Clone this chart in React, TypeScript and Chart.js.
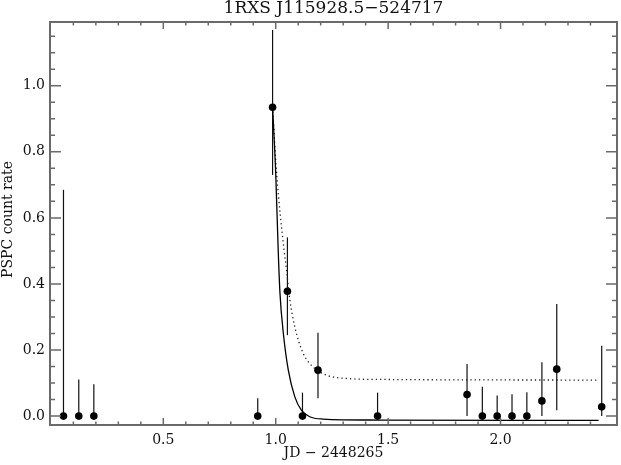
import { useEffect, useRef } from 'react';
import { Chart, registerables } from 'chart.js';

Chart.register(...registerables);

const titleText = '1RXS J115928.5\u2212524717';
const xTitle = 'JD \u2212 2448265';
const yTitle = 'PSPC count rate';

const obsX = [0.056, 0.124, 0.191, 0.920, 0.986, 1.052, 1.119, 1.188, 1.453, 1.851, 1.919, 1.985, 2.051, 2.117, 2.184, 2.250, 2.450];
const obsY = [0.0, 0.0, 0.0, 0.0, 0.935, 0.378, 0.0, 0.139, 0.0, 0.065, 0.0, 0.0, 0.0, 0.0, 0.046, 0.142, 0.028];
const errLo = [0.0, 0.0, 0.0, 0.0, 0.730, 0.245, 0.0, 0.054, 0.0, 0.0, 0.0, 0.0, 0.0, 0.0, 0.0, 0.018, 0.0];
const errHi = [0.685, 0.111, 0.096, 0.054, 1.169, 0.541, 0.071, 0.252, 0.071, 0.158, 0.089, 0.062, 0.066, 0.072, 0.163, 0.339, 0.213];

// Model curves
const solidX = [0.986, 1.000, 1.011, 1.019, 1.034, 1.056, 1.085, 1.114, 1.151, 1.210, 1.453, 2.436];
const solidY = [0.935, 0.735, 0.503, 0.371, 0.250, 0.139, 0.058, 0.018, -0.002, -0.009, -0.012, -0.013];
const dottedX = [0.986, 1.004, 1.037, 1.048, 1.063, 1.085, 1.122, 1.166, 1.225, 1.313, 1.460, 2.429];
const dottedY = [0.935, 0.735, 0.503, 0.442, 0.351, 0.270, 0.190, 0.149, 0.124, 0.114, 0.111, 0.109];

// Axis ticks
const xMajorTicks = [0.5, 1.0, 1.5, 2.0];
const xTickLabels = ['0.5', '1.0', '1.5', '2.0'];
const xMinorTicks = [0.1, 0.2, 0.3, 0.4, 0.6, 0.7, 0.8, 0.9, 1.1, 1.2, 1.3, 1.4, 1.6, 1.7, 1.8, 1.9, 2.1, 2.2, 2.3, 2.4];
const yMajorTicks = [0.0, 0.2, 0.4, 0.6, 0.8, 1.0];
const yTickLabels = ['0.0', '0.2', '0.4', '0.6', '0.8', '1.0'];
const yMinorTicks = [0.05, 0.1, 0.15, 0.25, 0.3, 0.35, 0.45, 0.5, 0.55, 0.65, 0.7, 0.75, 0.85, 0.9, 0.95, 1.05, 1.1, 1.15];

const FONT = '"DejaVu Serif", serif';
const AXIS_COLOR = '#6a6a6a';

const errorBarsPlugin = {
  id: 'errorBars',
  beforeDatasetsDraw(chart: any) {
    const { ctx } = chart;
    const xs = chart.scales.x;
    const ys = chart.scales.y;
    ctx.save();
    ctx.strokeStyle = '#111';
    ctx.lineWidth = 1.2;
    obsX.forEach((v, i) => {
      const px = xs.getPixelForValue(v);
      ctx.beginPath();
      ctx.moveTo(px, ys.getPixelForValue(errLo[i]));
      ctx.lineTo(px, ys.getPixelForValue(errHi[i]));
      ctx.stroke();
    });
    ctx.restore();
  },
};

const framePlugin = {
  id: 'frameAxes',
  afterDraw(chart: any) {
    const { ctx, chartArea } = chart;
    const { left, right, top, bottom } = chartArea;
    const xs = chart.scales.x;
    const ys = chart.scales.y;
    ctx.save();
    ctx.strokeStyle = AXIS_COLOR;
    ctx.lineWidth = 2;
    ctx.strokeRect(left, top, right - left, bottom - top);

    const xMajLen = 7, xMinLen = 3.5, yMajLen = 11, yMinLen = 5;
    ctx.lineWidth = 1.5;
    ctx.beginPath();
    xMajorTicks.forEach((v) => {
      const p = xs.getPixelForValue(v);
      ctx.moveTo(p, bottom); ctx.lineTo(p, bottom - xMajLen);
      ctx.moveTo(p, top); ctx.lineTo(p, top + xMajLen);
    });
    xMinorTicks.forEach((v) => {
      const p = xs.getPixelForValue(v);
      ctx.moveTo(p, bottom); ctx.lineTo(p, bottom - xMinLen);
      ctx.moveTo(p, top); ctx.lineTo(p, top + xMinLen);
    });
    yMajorTicks.forEach((v) => {
      const p = ys.getPixelForValue(v);
      ctx.moveTo(left, p); ctx.lineTo(left + yMajLen, p);
      ctx.moveTo(right, p); ctx.lineTo(right - yMajLen, p);
    });
    yMinorTicks.forEach((v) => {
      const p = ys.getPixelForValue(v);
      ctx.moveTo(left, p); ctx.lineTo(left + yMinLen, p);
      ctx.moveTo(right, p); ctx.lineTo(right - yMinLen, p);
    });
    ctx.stroke();

    ctx.fillStyle = '#111';
    ctx.font = `14px ${FONT}`;
    ctx.textAlign = 'center';
    ctx.textBaseline = 'middle';
    xMajorTicks.forEach((v, i) => {
      ctx.fillText(xTickLabels[i], xs.getPixelForValue(v), bottom + 15);
    });
    ctx.textAlign = 'right';
    yMajorTicks.forEach((v, i) => {
      ctx.fillText(yTickLabels[i], left - 5, ys.getPixelForValue(v));
    });

    ctx.textAlign = 'center';
    ctx.fillText(xTitle, (left + right) / 2, bottom + 28);
    ctx.save();
    ctx.translate(8, (top + bottom) / 2 - 4);
    ctx.rotate(-Math.PI / 2);
    ctx.fillText(yTitle, 0, 0);
    ctx.restore();

    ctx.font = `17px ${FONT}`;
    ctx.fillText(titleText, (left + right) / 2, 9);
    ctx.restore();
  },
};

export default function App() {
  const canvasRef = useRef<HTMLCanvasElement | null>(null);

  useEffect(() => {
    const canvas = canvasRef.current;
    if (!canvas) return;
    const chart = new Chart(canvas, {
      type: 'scatter',
      data: {
        datasets: [
          {
            type: 'line',
            data: solidX.map((x, i) => ({ x, y: solidY[i] })),
            borderColor: '#000',
            borderWidth: 1.3,
            pointRadius: 0,
            cubicInterpolationMode: 'monotone',
            fill: false,
          } as any,
          {
            type: 'line',
            data: dottedX.map((x, i) => ({ x, y: dottedY[i] })),
            borderColor: '#222',
            borderWidth: 1.3,
            borderDash: [1.3, 3],
            pointRadius: 0,
            cubicInterpolationMode: 'monotone',
            fill: false,
          } as any,
          {
            type: 'scatter',
            data: obsX.map((x, i) => ({ x, y: obsY[i] })),
            backgroundColor: '#000',
            borderColor: '#000',
            pointRadius: 3.8,
            pointBorderWidth: 0,
          },
        ],
      },
      options: {
        responsive: false,
        animation: false,
        layout: { padding: { left: 50, top: 22, right: 1, bottom: 40 } },
        plugins: {
          legend: { display: false },
          tooltip: { enabled: false },
          title: { display: false },
        },
        scales: {
          x: { type: 'linear', min: -0.004, max: 2.518, display: false },
          y: { type: 'linear', min: -0.027, max: 1.193, display: false },
        },
      },
      plugins: [errorBarsPlugin, framePlugin],
    });
    return () => chart.destroy();
  }, []);

  return (
    <div style={{ position: 'absolute', left: 0, top: 0, width: 621, height: 465, background: '#fff' }}>
      <canvas ref={canvasRef} width={621} height={465} />
    </div>
  );
}
